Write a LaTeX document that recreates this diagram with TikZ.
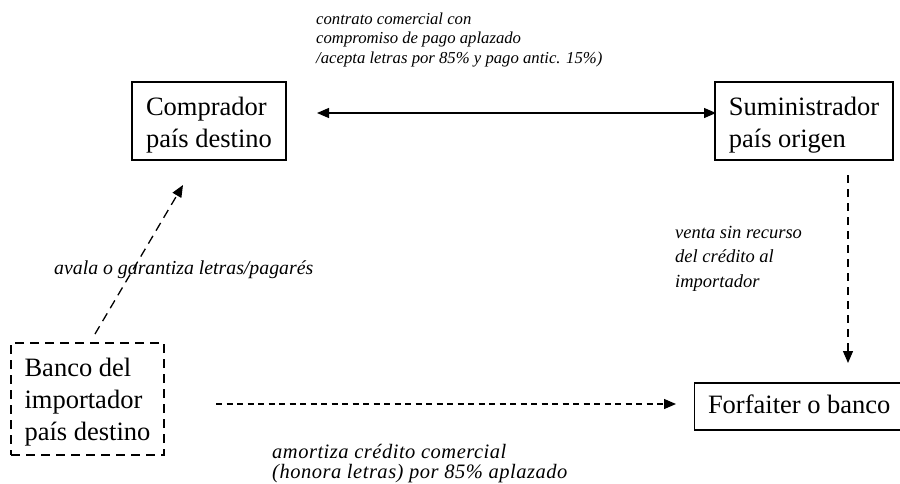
\documentclass[tikz,border=0pt]{standalone}
\usepackage{fontspec}
\setmainfont{Liberation Serif}
\usetikzlibrary{arrows.meta}
\begin{document}
\begin{tikzpicture}[x=1pt,y=-1pt,
  party/.style={draw,line width=1.3pt,font=\fontsize{26.5}{32}\selectfont,align=left,inner sep=0pt},
  dashbox/.style={party,dash pattern=on 9pt off 6pt},
  note/.style={align=left,inner sep=0pt,anchor=base west},
  flow/.style={line width=1.3pt,-{Triangle[length=12pt,width=10pt]}}
]
\useasboundingbox (0,0) rectangle (900,483);

% parties (the rules only nudge the text block inside its frame)
\node[party,minimum width=154pt,minimum height=78pt] (buyer) at (209,121)
  {\rule{0pt}{26pt}Comprador\\país destino};
\node[party,minimum width=178pt,minimum height=78pt] (supplier) at (804,121)
  {\rule{0pt}{26pt}Suministrador\\país origen};
\node[dashbox,minimum width=153pt,minimum height=112pt] (bank) at (87.5,399)
  {\rule{0pt}{23.7pt}Banco del\\importador\\país destino};
\node[party,minimum width=215pt,minimum height=47pt] (forfaiter) at (802,406.5)
  {\hspace*{-5.5pt}\rule[-5pt]{0pt}{1pt}Forfaiter o banco};

% anchor points for the connectors
\coordinate (buyerR) at (317,113);
\coordinate (supplierL) at (716,113);
\coordinate (diagFrom) at (95,334);
\coordinate (diagTo) at (183,185);
\coordinate (vertFrom) at (848,175);
\coordinate (vertTo) at (848,363);
\coordinate (horzFrom) at (216,404);
\coordinate (horzTo) at (676,404);

% connectors
\draw[line width=1.3pt,{Triangle[length=12pt,width=10pt]}-{Triangle[length=12pt,width=10pt]}]
  (buyerR) -- (supplierL);
\draw[flow,dash pattern=on 9pt off 6pt] (diagFrom) -- (diagTo);
\draw[flow,dash pattern=on 8pt off 6pt] (vertFrom) -- (vertTo);
\draw[flow,dash pattern=on 6pt off 4.5pt] (horzFrom) -- (horzTo);

% labels (base anchor = baseline of the last line)
\node[note,font=\fontsize{16.7}{19.3}\selectfont\itshape] (lblContract) at (316,63)
  {contrato comercial con\\compromiso de pago aplazado\\/acepta letras por 85\% y pago antic. 15\%)};
\node[note,font=\fontsize{19.8}{24}\selectfont\itshape] (lblGuarantee) at (54,274)
  {avala o garantiza letras/pagarés};
\node[note,font=\fontsize{18.5}{24.5}\selectfont\itshape] (lblSale) at (675,287)
  {venta sin recurso\\del crédito al\\importador};
\node[note,font=\fontsize{20.5}{20}\selectfont\itshape\addfontfeature{LetterSpace=2.5}] (lblRepay) at (272,478)
  {amortiza crédito comercial\\(honora letras) por 85\% aplazado};
\end{tikzpicture}
\end{document}
